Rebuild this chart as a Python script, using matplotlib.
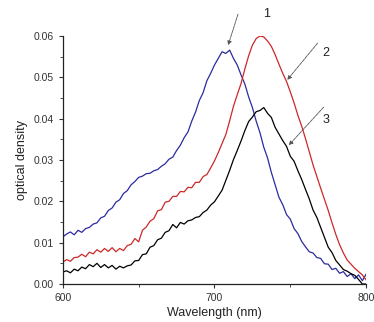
import numpy as np
import matplotlib
matplotlib.use('Agg')
import matplotlib.pyplot as plt
from matplotlib.ticker import MultipleLocator

plt.rcParams['font.family'] = ['Liberation Sans', 'DejaVu Sans']

# wavelength grid, 2.5 nm step
wl = np.arange(600, 800.1, 2.5)

# curve 1 (blue)
od1 = [0.0114, 0.0121, 0.0126, 0.0119, 0.0130, 0.0125, 0.0134, 0.0137, 0.0145, 0.0148,
       0.0160, 0.0164, 0.0178, 0.0184, 0.0198, 0.0204, 0.0219, 0.0226, 0.0240, 0.0248,
       0.0258, 0.0261, 0.0267, 0.0268, 0.0274, 0.0277, 0.0285, 0.0291, 0.0302, 0.0307,
       0.0323, 0.0336, 0.0354, 0.0368, 0.0394, 0.0416, 0.0444, 0.0463, 0.0492, 0.0510,
       0.0530, 0.0546, 0.0562, 0.0558, 0.0566, 0.0546, 0.0530, 0.0506, 0.0484, 0.0453,
       0.0427, 0.0394, 0.0366, 0.0331, 0.0305, 0.0270, 0.0240, 0.0210, 0.0192, 0.0168,
       0.0157, 0.0134, 0.0122, 0.0103, 0.0090, 0.0078, 0.0075, 0.0064, 0.0062, 0.0049,
       0.0048, 0.0035, 0.0038, 0.0026, 0.0030, 0.0018, 0.0025, 0.0013, 0.0022, 0.0008,
       0.0024]

# curve 2 (red)
od2 = [0.0053, 0.0059, 0.0055, 0.0064, 0.0065, 0.0072, 0.0066, 0.0077, 0.0073, 0.0083,
       0.0077, 0.0086, 0.0079, 0.0088, 0.0078, 0.0086, 0.0081, 0.0093, 0.0096, 0.0110,
       0.0102, 0.0130, 0.0138, 0.0152, 0.0158, 0.0177, 0.0180, 0.0198, 0.0200, 0.0212,
       0.0212, 0.0224, 0.0223, 0.0234, 0.0233, 0.0246, 0.0246, 0.0260, 0.0265, 0.0281,
       0.0298, 0.0318, 0.0340, 0.0362, 0.0395, 0.0430, 0.0458, 0.0485, 0.0520, 0.0552,
       0.0578, 0.0594, 0.0600, 0.0598, 0.0588, 0.0575, 0.0555, 0.0532, 0.0510, 0.0490,
       0.0465, 0.0438, 0.0408, 0.0382, 0.0352, 0.0320, 0.0288, 0.0260, 0.0232, 0.0205,
       0.0178, 0.0148, 0.0120, 0.0095, 0.0075, 0.0058, 0.0048, 0.0038, 0.0030, 0.0022,
       0.0010]

# curve 3 (black)
od3 = [0.0029, 0.0032, 0.0027, 0.0036, 0.0032, 0.0041, 0.0037, 0.0047, 0.0042, 0.0050,
       0.0040, 0.0047, 0.0039, 0.0045, 0.0036, 0.0043, 0.0039, 0.0044, 0.0046, 0.0056,
       0.0057, 0.0071, 0.0073, 0.0089, 0.0093, 0.0107, 0.0111, 0.0125, 0.0129, 0.0144,
       0.0136, 0.0149, 0.0145, 0.0153, 0.0155, 0.0161, 0.0163, 0.0173, 0.0179, 0.0191,
       0.0199, 0.0213, 0.0227, 0.0251, 0.0275, 0.0301, 0.0323, 0.0346, 0.0371, 0.0393,
       0.0404, 0.0417, 0.0420, 0.0427, 0.0413, 0.0403, 0.0379, 0.0363, 0.0347, 0.0333,
       0.0309, 0.0297, 0.0274, 0.0253, 0.0229, 0.0206, 0.0179, 0.0161, 0.0137, 0.0113,
       0.0089, 0.0076, 0.0057, 0.0046, 0.0035, 0.0031, 0.0025, 0.0021, 0.0011, 0.0000,
       0.0000]

fig = plt.figure(figsize=(3.74, 3.22), dpi=100)
ax = fig.add_axes([0.168, 0.118, 0.811, 0.770])

ax.plot(wl, od1, color='#2b2ba0', lw=0.9)
ax.plot(wl, od2, color='#cc2828', lw=0.9)
ax.plot(wl, od3, color='black', lw=0.9)

ax.set_xlim(600, 800)
ax.set_ylim(0, 0.06)
ax.xaxis.set_major_locator(MultipleLocator(100))
ax.xaxis.set_minor_locator(MultipleLocator(50))
ax.yaxis.set_major_locator(MultipleLocator(0.01))
ax.yaxis.set_minor_locator(MultipleLocator(0.005))
ax.yaxis.set_major_formatter(plt.FormatStrFormatter('%.2f'))
ax.tick_params(which='major', length=3, width=0.8, labelsize=7.5, colors='#333333')
ax.tick_params(which='minor', length=2, width=0.6, colors='#333333')
for s in ['top', 'right']:
    ax.spines[s].set_visible(False)
for s in ['left', 'bottom']:
    ax.spines[s].set_color('#222222')
    ax.spines[s].set_linewidth(0.9)

ax.set_xlabel('Wavelength (nm)', fontsize=9, color='#222222', labelpad=3)
ax.set_ylabel('optical density', fontsize=9, color='#222222', labelpad=4)

arr = dict(arrowstyle='-|>', color='#555555', lw=0.6, linestyle=(0, (4, 1)),
           mutation_scale=6, shrinkA=0, shrinkB=0)
ax.annotate('', xy=(709, 0.0578), xytext=(715.5, 0.0653), arrowprops=arr, annotation_clip=False)
ax.annotate('', xy=(748, 0.0494), xytext=(768, 0.0583), arrowprops=arr, annotation_clip=False)
ax.annotate('', xy=(749, 0.0336), xytext=(772, 0.0428), arrowprops=arr, annotation_clip=False)
ax.text(734.6, 0.0653, '1', fontsize=9, ha='center', va='center', color='#222222')
ax.text(773.6, 0.0559, '2', fontsize=9, ha='center', va='center', color='#222222')
ax.text(773.6, 0.0397, '3', fontsize=9, ha='center', va='center', color='#222222')

fig.savefig('out.png', dpi=100)
